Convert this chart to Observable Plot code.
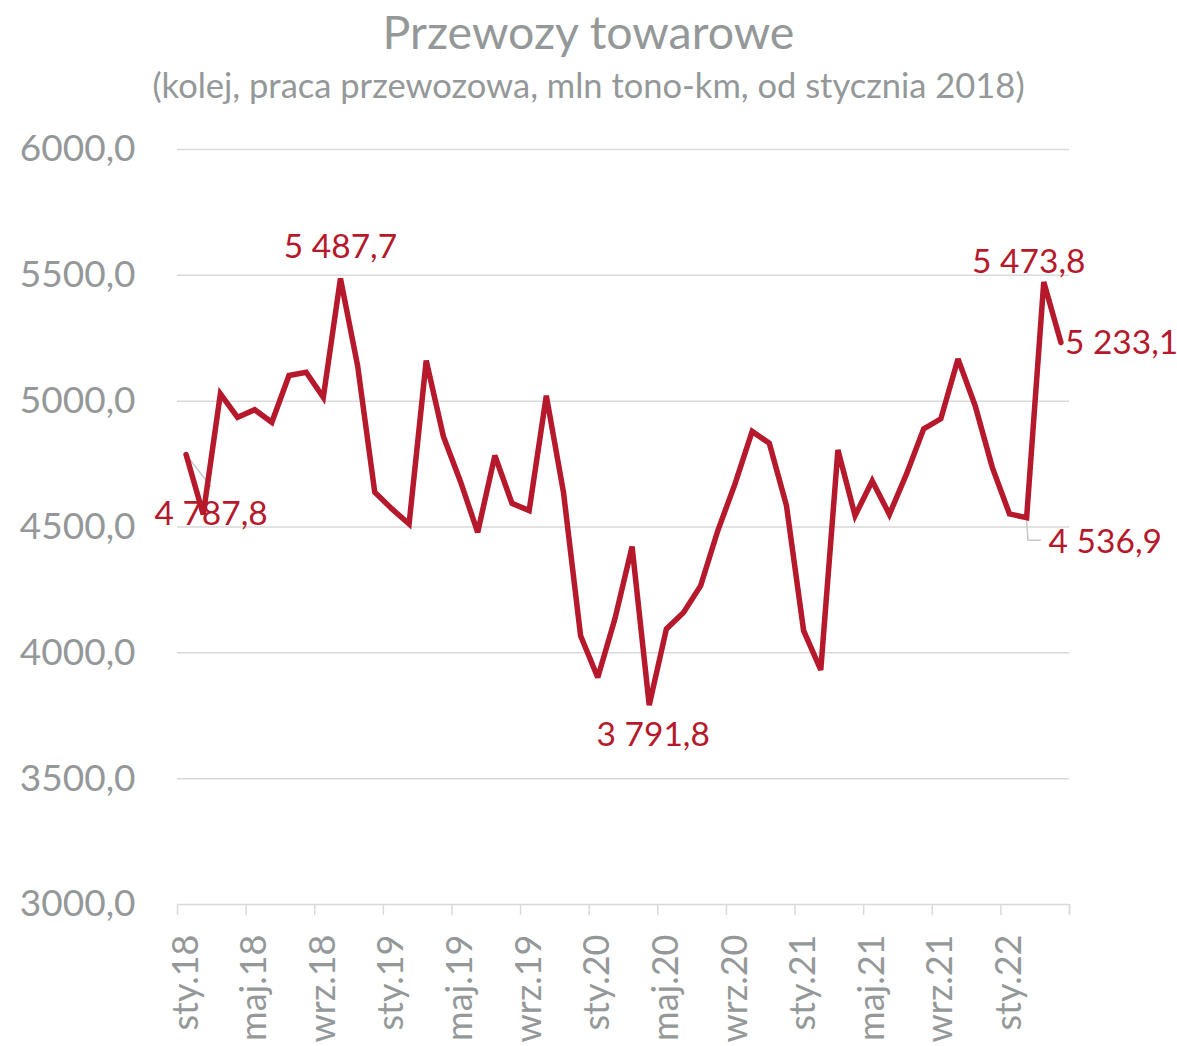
<!DOCTYPE html>
<html>
<head>
<meta charset="utf-8">
<script src="https://cdn.jsdelivr.net/npm/d3@7"></script>
<script src="https://cdn.jsdelivr.net/npm/@observablehq/plot@0.6"></script>
<style>
  html, body { margin: 0; padding: 0; background: #fff; }
  body { width: 1177px; font-family: Lato, "Open Sans", sans-serif; }
  #header { position: relative; height: 110px; }
  #title { position: absolute; left: 0; width: 1177px; top: 4px; text-align: center; font-size: 46.5px; color: #949899; line-height: 54px; }
  #subtitle { position: absolute; left: 0; width: 1177px; top: 64px; text-align: center; font-size: 34.5px; color: #949899; line-height: 42px; }
</style>
</head>
<body>
<div id="header">
  <div id="title">Przewozy towarowe</div>
  <div id="subtitle">(kolej, praca przewozowa, mln tono-km, od stycznia 2018)</div>
</div>
<div id="chart"></div>
<script>
// ---- data ----
const monthNames = ["sty","lut","mar","kwi","maj","cze","lip","sie","wrz","paź","lis","gru"];
const startYear = 18;
const values = [
  4787.8, 4550, 5029, 4936, 4966, 4916, 5102, 5115, 5015, 5487.7, 5141, 4638,
  4572, 4512, 5161, 4860, 4680, 4479, 4784, 4594, 4565, 5022, 4638, 4068,
  3902, 4135, 4422, 3791.8, 4095, 4160, 4267, 4486, 4671, 4880, 4833, 4585,
  4088, 3932, 4806, 4545, 4683, 4550, 4711, 4890, 4930, 5168, 4982, 4737,
  4552, 4536.9, 5473.8, 5233.1
];
const yTicks = [3000, 3500, 4000, 4500, 5000, 5500, 6000];
const labeledIdx = [0, 9, 27, 49, 50, 51];

// ---- derived ----
const monthLabels = values.map((_, i) => monthNames[i % 12] + "." + (startYear + Math.floor(i / 12)));
const rows = values.map((v, i) => ({i, v, label: monthLabels[i]}));
const labelTicks = d3.range(0, values.length, 4);
const boundaryTicks = d3.range(-0.5, values.length, 4).concat([values.length - 0.5]);
const pl = d3.formatLocale({decimal: ",", thousands: "\u00a0", grouping: [3]});
const fmt = pl.format(",.1f");

const red = "#b5192b";
const gray = "#949899";

// annotation styles (pixel offsets)
const annStyle = {
  0:  {dx: 25, dy: 60, anchor: "middle"},
  9:  {dx: 0, dy: -31, anchor: "middle"},
  27: {dx: 4, dy: 30, anchor: "middle"},
  49: {dx: 22, dy: 25, anchor: "start"},
  50: {dx: -15, dy: -20, anchor: "middle"},
  51: {dx: 4, dy: 1, anchor: "start"}
};

const chart = Plot.plot({
  width: 1177,
  height: 936,
  marginTop: 39,
  marginBottom: 142,
  marginLeft: 177,
  marginRight: 108,
  style: {fontFamily: "Lato, 'Open Sans', sans-serif", background: "transparent"},
  x: {type: "linear", domain: [-0.5, values.length - 0.5]},
  y: {domain: [3000, 6000]},
  marks: [
    Plot.gridY(yTicks, {stroke: "#d9d9d9", strokeOpacity: 1, strokeWidth: 1.5}),
    Plot.axisY(yTicks, {tickSize: 0, tickPadding: 42, fontSize: 37, fill: gray, label: null,
      tickFormat: d => d.toFixed(1).replace(".", ",")}),
    Plot.axisX(boundaryTicks, {anchor: "bottom", tickSize: 11, stroke: "#d9d9d9", strokeWidth: 1.5, tickFormat: () => "", label: null}),
    Plot.axisX(labelTicks, {anchor: "bottom", tickSize: 0, tickPadding: 30, tickRotate: -90, fontSize: 36, fill: gray,
      tickFormat: i => monthLabels[i], label: null}),
    // leader lines
    Plot.link([rows[0]], {x1: "i", y1: "v", x2: d => d.i + 1.45, y2: d => d.v - 128, stroke: "#c8c8c8", strokeWidth: 1.5}),
    Plot.line([rows[49], rows[49], rows[49]].map((d, k) => ({x: d.i + [0, 0.08, 0.8][k], y: d.v - [8, 90, 90][k]})),
      {x: "x", y: "y", stroke: "#c8c8c8", strokeWidth: 1.5}),
    Plot.lineY(rows, {x: "i", y: "v", stroke: red, strokeWidth: 5.5, strokeLinejoin: "miter", strokeMiterlimit: 3}),
    ...labeledIdx.map(i => Plot.text([rows[i]], {
      x: "i", y: "v", text: d => fmt(d.v), fill: red, fontSize: 33.5,
      dx: annStyle[i].dx, dy: annStyle[i].dy, textAnchor: annStyle[i].anchor, lineAnchor: "middle"
    }))
  ]
});
document.getElementById("chart").appendChild(chart);
</script>
</body>
</html>
